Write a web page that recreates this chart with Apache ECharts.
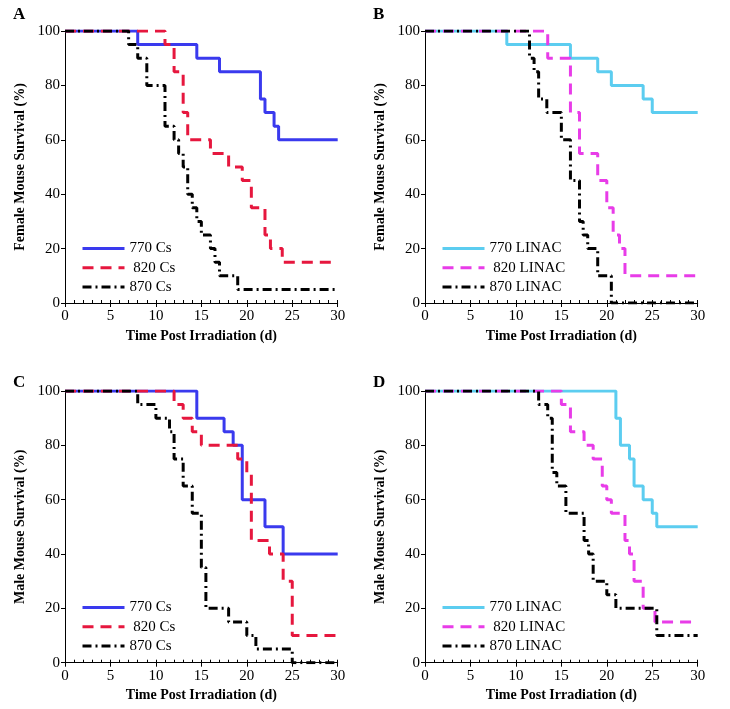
<!DOCTYPE html>
<html><head><meta charset="utf-8">
<script src="https://cdn.jsdelivr.net/npm/echarts@6/dist/echarts.min.js"></script>
<style>html,body{margin:0;padding:0;background:#fff}#c{width:730px;height:709px}</style>
</head><body><div id="c"></div><script>
// ---- Data (day when survival changes, survival % after change) ----
// Panel A: Female, Cs
const A_770_day = [0, 8, 14.5, 17, 21.5, 22, 23, 23.5, 30];
const A_770_pct = [100, 95, 90, 85, 75, 70, 65, 60, 60];
const A_820_day = [0, 11, 12, 13, 13.5, 16, 18, 19.5, 20.5, 22, 22.6, 23.9, 30];
const A_820_pct = [100, 95, 85, 70, 60, 55, 50, 45, 35, 25, 20, 15, 15];
const A_870_day = [0, 7, 8, 9, 11, 12, 12.5, 13, 13.5, 14, 14.5, 15, 16, 16.5, 17, 19, 30];
const A_870_pct = [100, 95, 90, 80, 65, 60, 55, 50, 40, 35, 30, 25, 20, 15, 10, 5, 5];
// Panel B: Female, LINAC
const B_770_day = [0, 9, 16, 19, 20.5, 24, 25, 30];
const B_770_pct = [100, 95, 90, 85, 80, 75, 70, 70];
const B_820_day = [0, 13.5, 16, 17, 19, 20, 20.7, 21.4, 22, 30];
const B_820_pct = [100, 90, 70, 55, 45, 35, 25, 20, 10, 10];
const B_870_day = [0, 11.5, 12, 12.5, 13.4, 15, 16, 17, 17.4, 17.9, 19, 20.5, 30];
const B_870_pct = [100, 90, 85, 75, 70, 60, 45, 30, 25, 20, 10, 0, 0];
// Panel C: Male, Cs
const C_770_day = [0, 14.5, 17.5, 18.5, 19.5, 22, 24, 30];
const C_770_pct = [100, 90, 85, 80, 60, 50, 40, 40];
const C_820_day = [0, 12, 13, 14, 15, 19, 20, 20.5, 22.5, 24, 25, 30];
const C_820_pct = [100, 95, 90, 85, 80, 75, 70, 45, 40, 30, 10, 10];
const C_870_day = [0, 8, 10, 11.5, 12, 13, 14, 15, 15.5, 18, 20, 21, 25, 30];
const C_870_pct = [100, 95, 90, 85, 75, 65, 55, 35, 20, 15, 10, 5, 0, 0];
// Panel D: Male, LINAC
const D_770_day = [0, 21, 21.5, 22.5, 23, 24, 25, 25.5, 30];
const D_770_pct = [100, 90, 80, 75, 65, 60, 55, 50, 50];
const D_820_day = [0, 15, 16, 17.5, 18.5, 19.5, 20, 20.5, 22, 22.5, 23, 24, 25.3, 30];
const D_820_pct = [100, 95, 85, 80, 75, 65, 60, 55, 45, 40, 30, 20, 15, 15];
const D_870_day = [0, 12.5, 13.5, 14, 14.5, 15.5, 17.5, 18, 18.5, 20, 21, 25.5, 30];
const D_870_pct = [100, 95, 90, 70, 65, 55, 45, 40, 30, 25, 20, 10, 10];

const csNames = ['770 Cs', '820 Cs', '870 Cs'];
const linacNames = ['770 LINAC', '820 LINAC', '870 LINAC'];
const panelLetters = ['A', 'B', 'C', 'D'];
const xTitle = 'Time Post Irradiation (d)';
const yTitles = ['Female Mouse Survival (%)', 'Female Mouse Survival (%)', 'Male Mouse Survival (%)', 'Male Mouse Survival (%)'];

const zip = (d, p) => d.map((x, i) => [x, p[i]]);
const FONT = 'Liberation Serif, Times New Roman, serif';

const styles = {
  s770cs: { color: '#3a3aee', width: 3, type: 'solid' },
  s820: { color: '#e6173e', width: 3, type: [11, 7] },
  s870: { color: '#000000', width: 3, type: [9, 4, 2, 4] },
  s770li: { color: '#5ccdf0', width: 3, type: 'solid' },
  s820li: { color: '#e83ce8', width: 3, type: [11, 7] }
};

const panels = [
  { grid: { left: 65, top: 31, width: 272.7, height: 272 }, names: csNames,
    data: [zip(A_770_day, A_770_pct), zip(A_820_day, A_820_pct), zip(A_870_day, A_870_pct)],
    st: [styles.s770cs, styles.s820, styles.s870], legend: { left: 81, top: 241 }, letter: [13, 14] },
  { grid: { left: 425, top: 31, width: 272.7, height: 272 }, names: linacNames,
    data: [zip(B_770_day, B_770_pct), zip(B_820_day, B_820_pct), zip(B_870_day, B_870_pct)],
    st: [styles.s770li, styles.s820li, styles.s870], legend: { left: 441, top: 241 }, letter: [373, 14] },
  { grid: { left: 65, top: 391, width: 272.7, height: 271.7 }, names: csNames,
    data: [zip(C_770_day, C_770_pct), zip(C_820_day, C_820_pct), zip(C_870_day, C_870_pct)],
    st: [styles.s770cs, styles.s820, styles.s870], legend: { left: 81, top: 600 }, letter: [13, 382] },
  { grid: { left: 425, top: 391, width: 272.7, height: 271.7 }, names: linacNames,
    data: [zip(D_770_day, D_770_pct), zip(D_820_day, D_820_pct), zip(D_870_day, D_870_pct)],
    st: [styles.s770li, styles.s820li, styles.s870], legend: { left: 441, top: 600 }, letter: [373, 382] }
];

const grid = [], xAxis = [], yAxis = [], series = [], legend = [], graphic = [];
panels.forEach((p, i) => {
  grid.push(Object.assign({ containLabel: false }, p.grid));
  xAxis.push({
    type: 'value', gridIndex: i, min: 0, max: 30, interval: 5, position: 'bottom',
    axisLine: { show: true, lineStyle: { color: '#000', width: 1 } },
    axisTick: { show: true, length: 4, inside: false, lineStyle: { color: '#000' } },
    axisLabel: { show: true, fontFamily: FONT, fontSize: 15, color: '#000', margin: 6 },
    splitLine: { show: false },
    name: xTitle, nameLocation: 'middle', nameGap: 26,
    nameTextStyle: { fontFamily: FONT, fontSize: 14, fontWeight: 'bold', color: '#000' }
  });
  yAxis.push({
    type: 'value', gridIndex: i, min: 0, max: 100, interval: 20,
    axisLine: { show: true, lineStyle: { color: '#000', width: 1 } },
    axisTick: { show: true, length: 4, inside: false, lineStyle: { color: '#000' } },
    axisLabel: { show: true, fontFamily: FONT, fontSize: 15, color: '#000', margin: 5 },
    splitLine: { show: false },
    name: yTitles[i], nameLocation: 'middle', nameGap: 38,
    nameTextStyle: { fontFamily: FONT, fontSize: 14, fontWeight: 'bold', color: '#000' }
  });
  p.names.forEach((n, k) => {
    series.push({
      type: 'line', name: n, xAxisIndex: i, yAxisIndex: i, step: 'end', symbol: 'none',
      showSymbol: false, animation: false, silent: true,
      lineStyle: { color: p.st[k].color, width: p.st[k].width, type: p.st[k].type },
      itemStyle: { color: p.st[k].color },
      data: p.data[k]
    });
  });
  legend.push({
    data: p.names, orient: 'vertical', left: p.legend.left, top: p.legend.top,
    itemWidth: 42, itemHeight: 14, itemGap: 4.3, padding: 0, selectedMode: false,
    itemStyle: { opacity: 0 },
    lineStyle: { width: 3 },
    formatter: n => (n.indexOf('820') === 0 ? ' ' + n : n),
    textStyle: { fontFamily: FONT, fontSize: 15, color: '#000' }
  });
  graphic.push({
    type: 'text', left: p.letter[0], top: p.letter[1] - 8,
    style: { text: panelLetters[i], fontFamily: FONT, fontSize: 17, fontWeight: 'bold', fill: '#000' }
  });
});
// minor ticks every day, pointing inward
panels.forEach((p, i) => {
  xAxis.push({
    type: 'value', gridIndex: i, min: 0, max: 30, interval: 1, position: 'bottom', offset: 0,
    axisLine: { show: false }, axisTick: { show: true, inside: true, length: 3, lineStyle: { color: '#000' } },
    axisLabel: { show: false }, splitLine: { show: false }
  });
});

const chart = echarts.init(document.getElementById('c'), null, { renderer: 'canvas' });
chart.setOption({ backgroundColor: '#fff', animation: false, grid, xAxis, yAxis, series, legend, graphic });
</script></body></html>
